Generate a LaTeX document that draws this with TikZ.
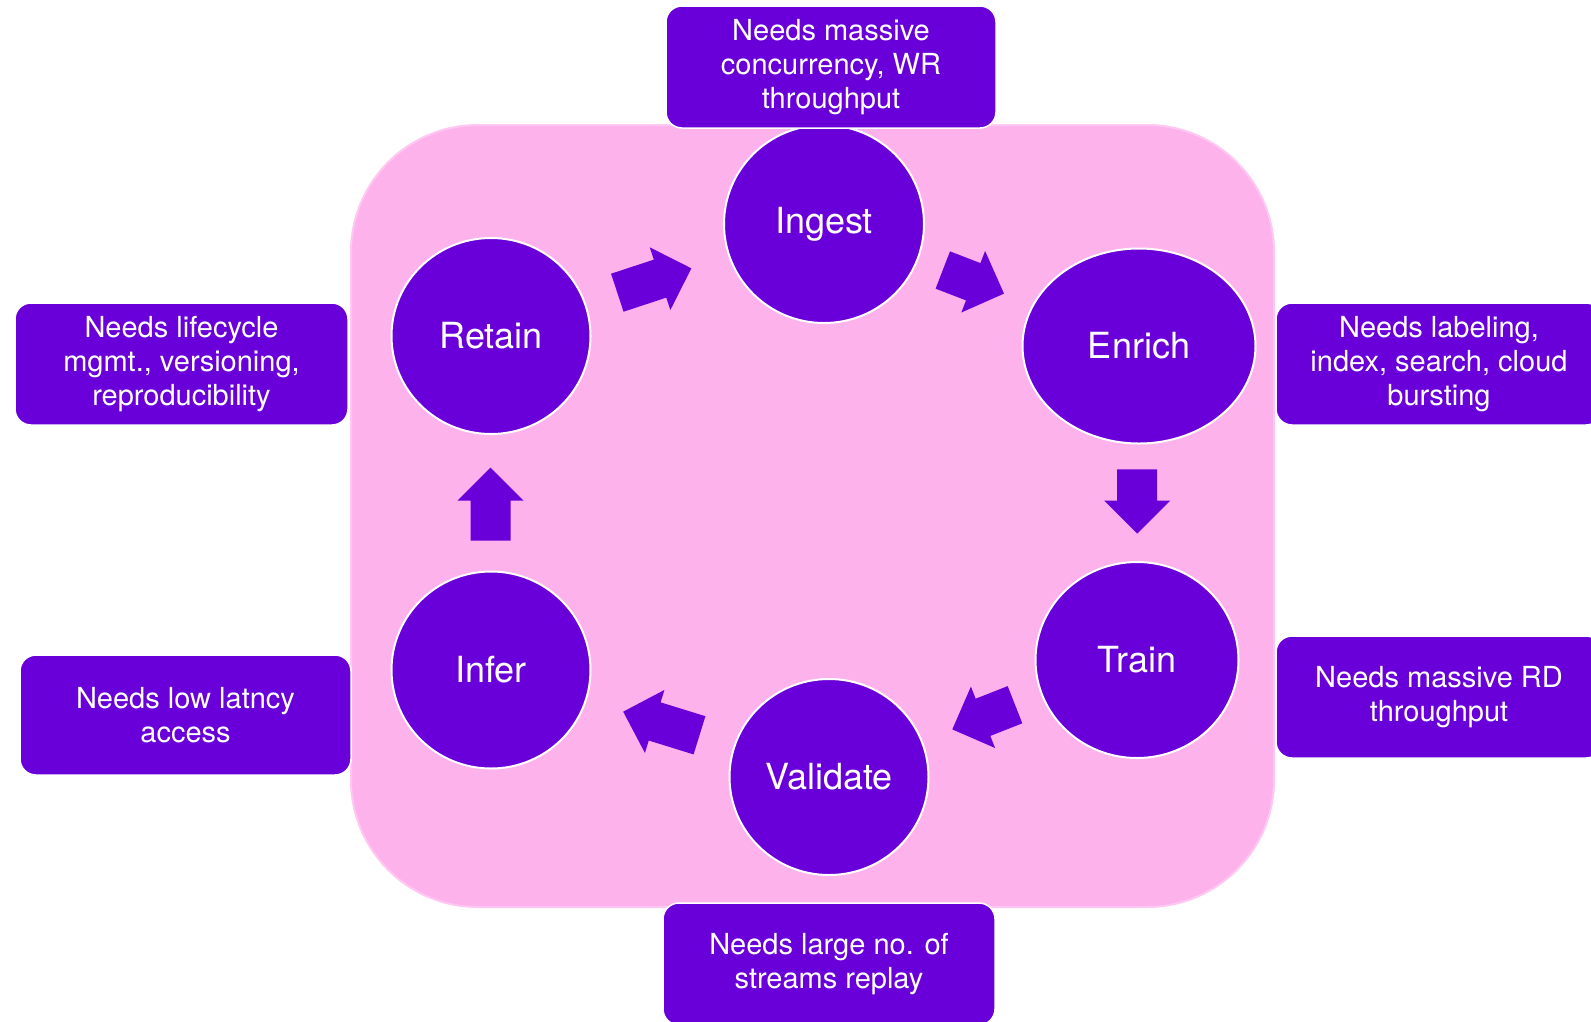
\documentclass[tikz,border=0pt]{standalone}
\usepackage{fontspec}
\setmainfont{TeX Gyre Heros}
\usetikzlibrary{shapes.geometric}
\definecolor{stagepurple}{RGB}{106,0,217}
\definecolor{cyclepink}{RGB}{254,178,236}
\definecolor{cycleedge}{RGB}{255,200,242}
\tikzset{
  stage/.style={ellipse, fill=stagepurple, draw=white, line width=2pt,
    text=white, inner sep=0pt, font=\fontsize{36}{40}\selectfont},
  needbox/.style={rectangle, rounded corners=16pt, fill=stagepurple, draw=white,
    line width=1.5pt, text=white, align=center, inner sep=0pt,
    font=\fontsize{29}{34}\selectfont},
  arrowfill/.style={fill=stagepurple}
}
% block arrow: #1 tail centre, #2 direction (deg), #3 shaft length
\newcommand\blockarr[3]{%
  \fill[arrowfill, shift={#1}, rotate=#2]
    (0,-20) -- (#3,-20) -- (#3,-33) -- ({#3+33},0) -- (#3,33) -- (#3,20) -- (0,20) -- cycle;}
\begin{document}
\begin{tikzpicture}[x=1pt,y=-1pt]
  \clip (0,0) rectangle (1591,1021);
  \fill[white] (0,0) rectangle (1591,1021);

  % background panel
  \draw[cycleedge, line width=2pt, fill=cyclepink, rounded corners=127pt]
    (351,125) rectangle (1274,907);

  % stages
  \node[stage, minimum width=200pt, minimum height=198pt] (ingest)   at (824,224)  {Ingest};
  \node[stage, minimum width=233pt, minimum height=195pt] (enrich)   at (1139,346) {Enrich};
  \node[stage, minimum width=203pt, minimum height=196pt] (train)    at (1137,660) {Train};
  \node[stage, minimum width=199pt, minimum height=196pt] (validate) at (829,777)  {Validate};
  \node[stage, minimum width=199pt, minimum height=197pt] (infer)    at (491,670)  {Infer};
  \node[stage, minimum width=199pt, minimum height=196pt] (retain)   at (491,336)  {Retain};

  % flow arrows between stages
  \blockarr{(617.3,292.7)}{18.2}{45}
  \blockarr{(942.8,270)}{-21.1}{32.6}
  \blockarr{(1137.2,469.3)}{-90}{31.4}
  \blockarr{(1015,704.7)}{201.5}{34.4}
  \blockarr{(699.5,735.3)}{162.8}{46.9}
  \blockarr{(490.5,540.7)}{90}{40}

  % requirement notes
  \node[needbox, minimum width=330pt, minimum height=122pt] (ningest) at (831,67)
    {Needs massive\\concurrency, WR\\throughput};
  \node[needbox, minimum width=326pt, minimum height=122pt] (nenrich) at (1439,364)
    {Needs labeling,\\index, search, cloud\\bursting};
  \node[needbox, minimum width=326pt, minimum height=122pt] (ntrain) at (1439,697)
    {Needs massive RD\\throughput};
  \node[needbox, minimum width=332pt, minimum height=122pt] (nvalidate) at (829,964)
    {Needs large no. of\\streams replay};
  \node[needbox, minimum width=331pt, minimum height=120pt] (ninfer) at (185.5,715)
    {Needs low latncy\\access};
  \node[needbox, minimum width=333pt, minimum height=122pt] (nretain) at (181.5,364)
    {Needs lifecycle\\mgmt., versioning,\\reproducibility};
\end{tikzpicture}
\end{document}
